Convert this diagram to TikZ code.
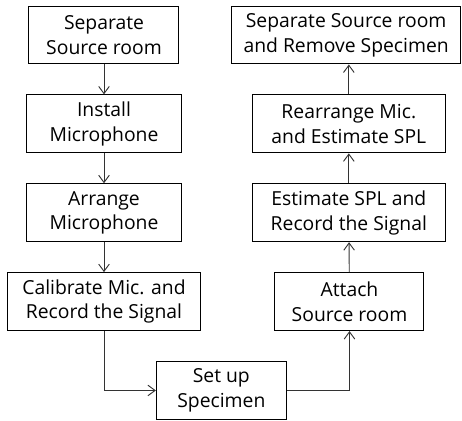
\documentclass[tikz,border=0pt]{standalone}
\usepackage{fontspec}
\setmainfont{Open Sans}
\usepackage{tikz}
\usetikzlibrary{positioning,arrows.meta}

\begin{document}
\begin{tikzpicture}[font=\fontsize{14.5}{18.5}\selectfont,>={Straight Barb[length=1.9mm,width=2.8mm]},
  node distance=22.4pt,
  stepbox/.style={draw,line width=0.75pt,align=center,minimum height=43.5pt,inner sep=2pt},
  link/.style={->,line width=0.7pt,draw=black!80}]
  \useasboundingbox (0,0) rectangle (346.5pt,-315.75pt);
  % left column, going down
  \node[stepbox,minimum width=112.5pt] (sep) at (78pt,-26.25pt) {Separate\\Source room};
  \node[stepbox,minimum width=116pt,below=of sep] (install) {Install\\Microphone};
  \node[stepbox,minimum width=116pt,below=of install] (arrange) {Arrange\\Microphone};
  \node[stepbox,minimum width=145pt,below=of arrange] (calib) {Calibrate Mic. and\\Record the Signal};
  \node[stepbox,minimum width=97.5pt,below=of calib,xshift=88pt] (setup) {Set up\\Specimen};
  % right column, going up
  \node[stepbox,minimum width=111.75pt,right=55pt of calib] (attach) {Attach\\Source room};
  \node[stepbox,minimum width=144.75pt,above=of attach,xshift=-0.5pt] (record) {Estimate SPL and\\Record the Signal};
  \node[stepbox,minimum width=144.75pt,above=of record] (rearr) {Rearrange Mic.\\and Estimate SPL};
  \node[stepbox,minimum width=172pt,above=of rearr,xshift=-2pt] (remove) {Separate Source room\\and Remove Specimen};

  \draw[link] (sep) -- (install);
  \draw[link] (install) -- (arrange);
  \draw[link] (arrange) -- (calib);
  \draw[link] (calib.south) |- (setup.west);
  \draw[link] (setup.east) -| (attach.south);
  \draw[link] (attach) -- (record);
  \draw[link] (record) -- (rearr);
  \draw[link] (rearr) -- (remove.south -| rearr);
\end{tikzpicture}
\end{document}
